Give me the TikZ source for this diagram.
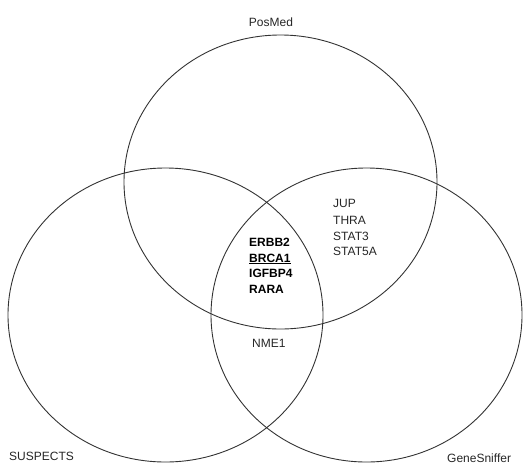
\documentclass[tikz,border=0pt]{standalone}
\usepackage{fontspec}
\setmainfont{Liberation Sans}
\begin{document}
\begin{tikzpicture}[x=1pt,y=-1pt,
  setline/.style={draw=black!80,line width=0.9pt},
  lbl/.style={anchor=base west,inner sep=0pt,font=\fontsize{12}{14}\selectfont,text=black!85},
  gene/.style={anchor=base west,inner sep=0pt,font=\fontsize{12}{14}\selectfont,text=black!85},
  core/.style={anchor=base west,inner sep=0pt,font=\fontsize{12}{14}\selectfont\bfseries,text=black}]
\useasboundingbox (0,0) rectangle (526,464);
% the three sets
\draw[setline] (280.5,182) ellipse [x radius=156.5, y radius=147];
\draw[setline] (165.5,315) ellipse [x radius=157.5, y radius=147];
\draw[setline] (366.5,315) ellipse [x radius=155.5, y radius=147];
% set names
\node[lbl,anchor=base] (posmed) at (271,26) {PosMed};
\node[lbl] (suspects) at (9,460.7) {SUSPECTS};
\node[lbl] (genesniffer) at (447,462.5) {GeneSniffer};
% PosMed and GeneSniffer only
\node[gene] (g1) at (333,207.7) {JUP};
\node[gene] (g2) at (333,224.3) {THRA};
\node[gene] (g3) at (333,240) {STAT3};
\node[gene] (g4) at (333,255.3) {STAT5A};
% all three sets
\node[core] (c1) at (249,246) {ERBB2};
\node[core] (c2) at (249,262) {\underline{BRCA1}};
\node[core] (c3) at (249,277.7) {IGFBP4};
\node[core] (c4) at (249,293.3) {RARA};
% SUSPECTS and GeneSniffer only
\node[gene] (n1) at (252,347.7) {NME1};
\end{tikzpicture}
\end{document}
